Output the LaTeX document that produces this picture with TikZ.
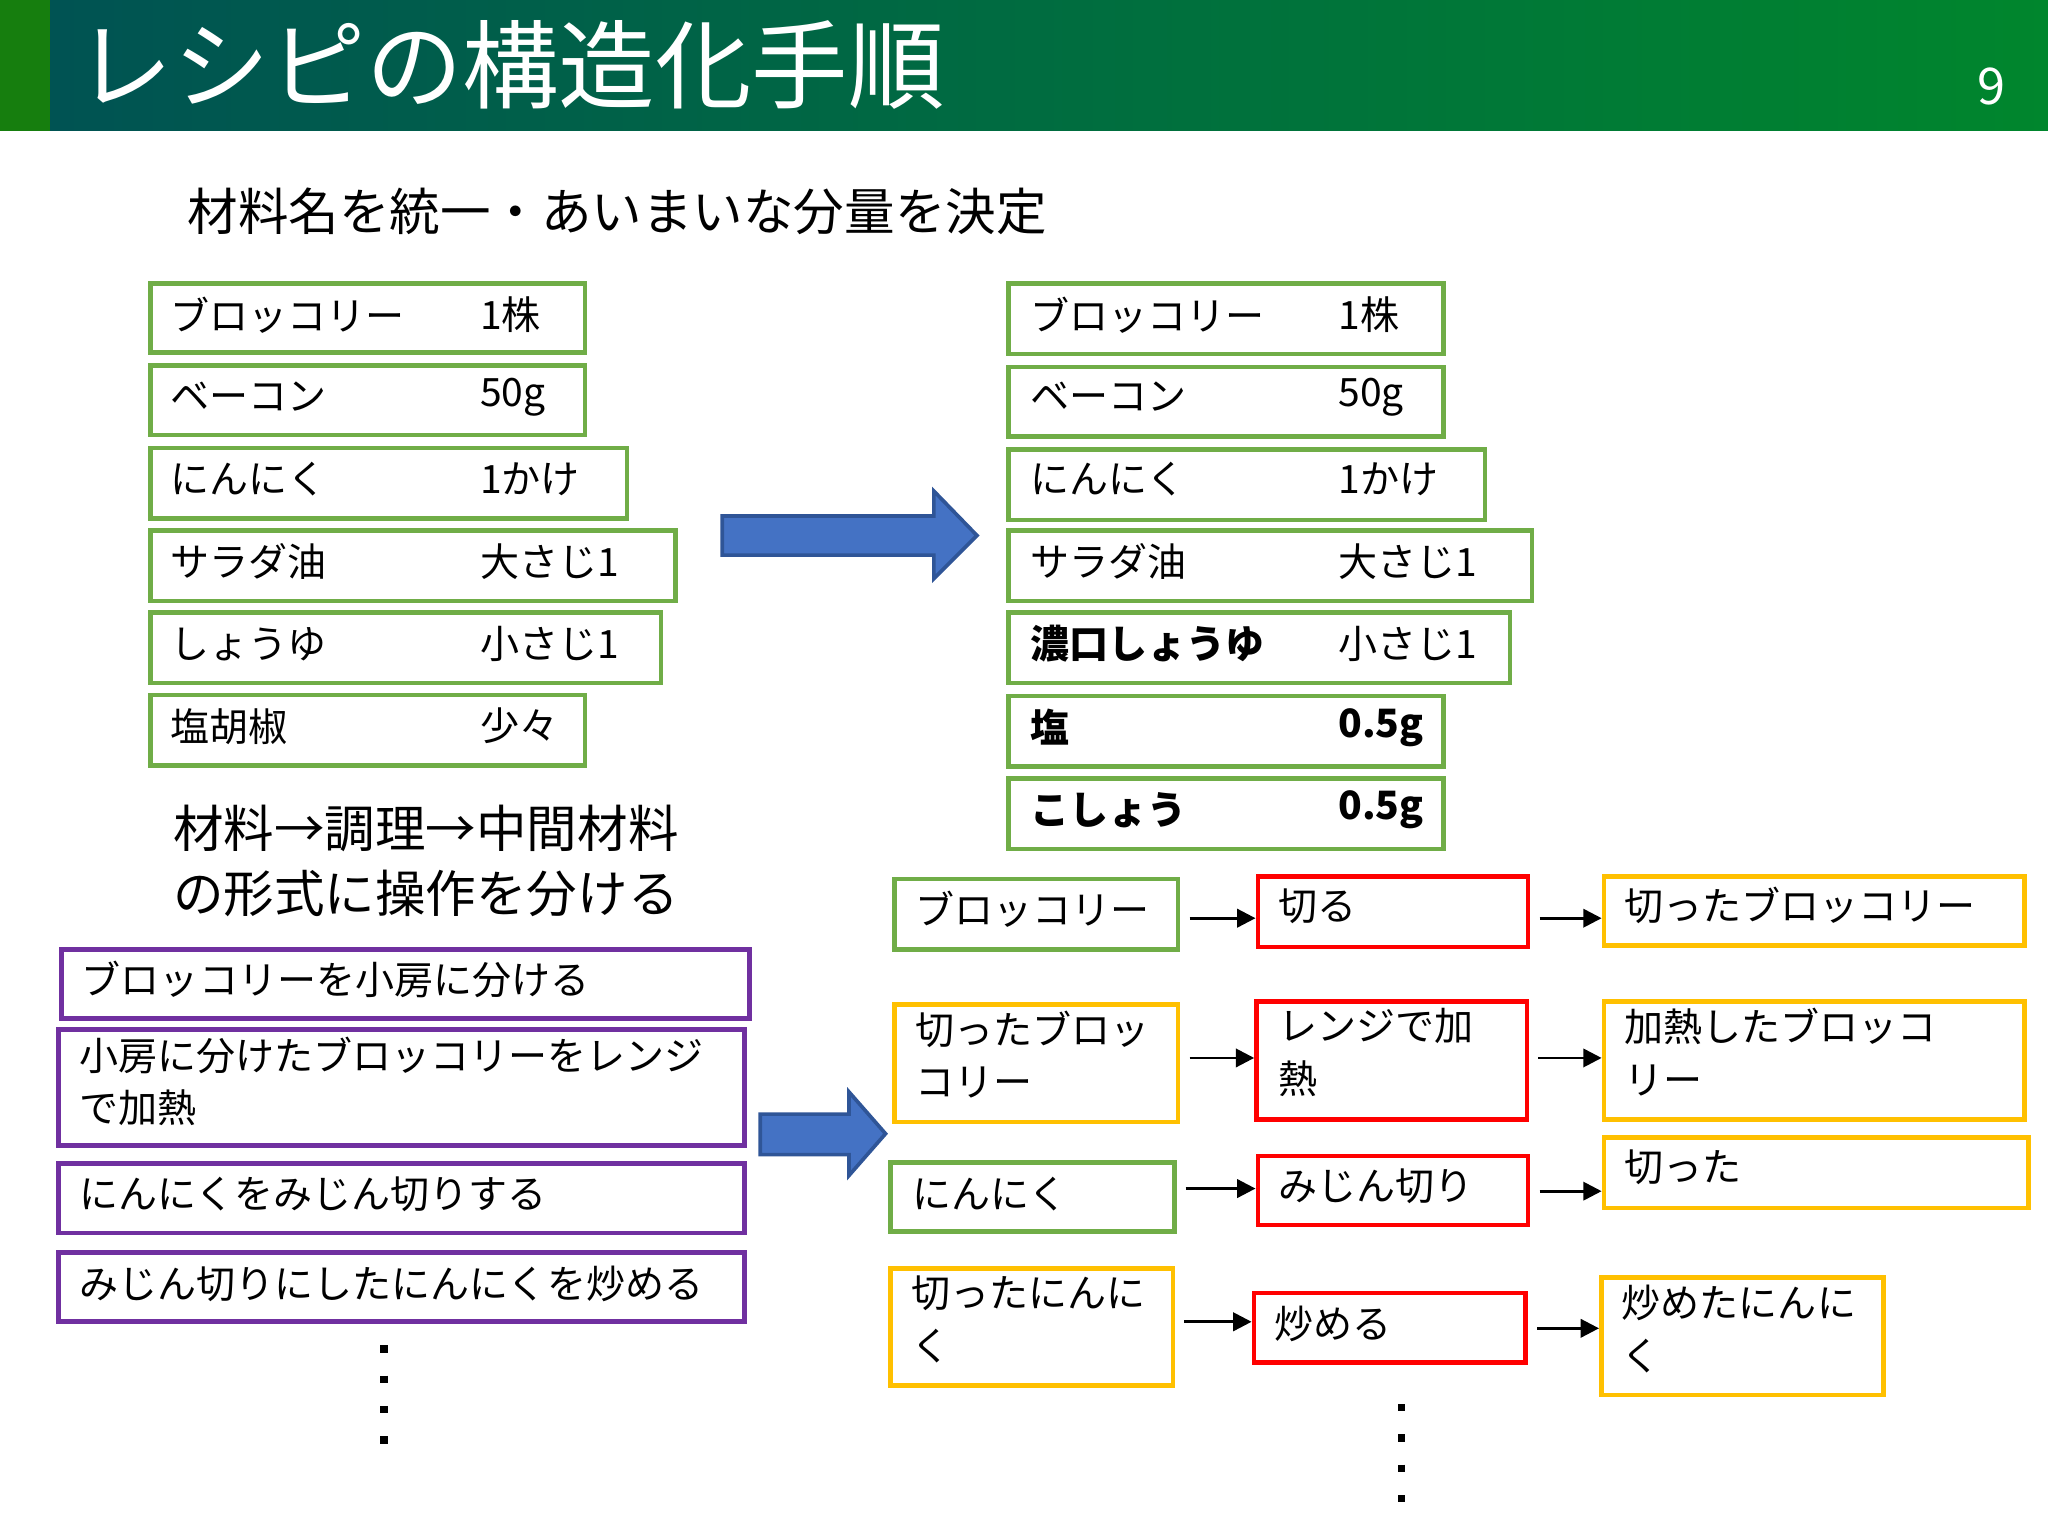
\documentclass[tikz,border=0pt]{standalone}
\usepackage{fontspec}
\setmainfont{Noto Sans CJK JP}
\usetikzlibrary{fit,arrows.meta}
\definecolor{gG}{HTML}{70AD47}\definecolor{gP}{HTML}{7030A0}
\definecolor{gR}{HTML}{FF0000}\definecolor{gY}{HTML}{FFC000}
\definecolor{gB}{HTML}{4472C4}\definecolor{gBd}{HTML}{2F5597}
\begin{document}
\begin{tikzpicture}[x=0.01cm,y=-0.01cm,
 bx/.style={draw,line width=1pt,inner sep=0pt},
 gb/.style={bx,draw=gG},pb/.style={bx,draw=gP},rb/.style={bx,draw=gR},yb/.style={bx,draw=gY},
 t/.style={anchor=west,inner sep=0pt,font=\fontsize{8.5pt}{11pt}\selectfont},
 tm/.style={anchor=north west,inner sep=0pt,align=left,font=\fontsize{8.5pt}{11.5pt}\selectfont},
 fa/.style={-{Triangle[length=4pt,width=4pt]},line width=0.6pt,shorten <=2pt},
 big/.style={draw=gBd,fill=gB,line width=0.8pt,line join=miter},
 dots/.style={line width=1.6pt,dash pattern=on 1.6pt off 5pt}]
\useasboundingbox (0,0) rectangle (1568,1176);
% header
\shade[left color=teal!65!black,right color=green!50!teal!70!black] (38,0) rectangle (1568,100);
\fill[green!45!black!80!gG] (0,0) rectangle (38,100);
\node[anchor=west,inner sep=0pt,text=white,font=\fontsize{21pt}{24pt}\selectfont] (title) at (58,50) {レシピの構造化手順};
\node[anchor=east,text=white,font=\fontsize{11pt}{13pt}\selectfont] (pg) at (1548,66) {9};
\node[anchor=west,inner sep=0pt,font=\fontsize{11pt}{13pt}\selectfont] (h1) at (143,162) {材料名を統一・あいまいな分量を決定};
\node[anchor=north west,align=left,inner sep=0pt,font=\fontsize{11pt}{14pt}\selectfont] (h2) at (132,616) {材料→調理→中間材料\\の形式に操作を分ける};
% left list
\node[gb,fit={(115,217)(448,270)}] (l1) {};
\node[gb,fit={(115,280)(448,333)}] (l2) {};
\node[gb,fit={(115,343)(480,397)}] (l3) {};
\node[gb,fit={(115,406)(517,460)}] (l4) {};
\node[gb,fit={(115,469)(506,523)}] (l5) {};
\node[gb,fit={(115,532)(448,586)}] (l6) {};
\node[t] (l1a) at (130,241) {ブロッコリー};\node[t] (l1b) at (367,241) {1株};
\node[t] (l2a) at (130,304) {ベーコン};\node[t] (l2b) at (367,304) {50g};
\node[t] (l3a) at (130,367) {にんにく};\node[t] (l3b) at (367,367) {1かけ};
\node[t] (l4a) at (130,430) {サラダ油};\node[t] (l4b) at (367,430) {大さじ1};
\node[t] (l5a) at (130,493) {しょうゆ};\node[t] (l5b) at (367,493) {小さじ1};
\node[t] (l6a) at (130,556) {塩胡椒};\node[t] (l6b) at (367,556) {少々};
% right list
\node[gb,fit={(772,217)(1105,271)}] (r1) {};
\node[gb,fit={(772,281)(1105,334)}] (r2) {};
\node[gb,fit={(772,344)(1137,398)}] (r3) {};
\node[gb,fit={(772,406)(1173,460)}] (r4) {};
\node[gb,fit={(772,469)(1156,523)}] (r5) {};
\node[gb,fit={(772,533)(1105,587)}] (r6) {};
\node[gb,fit={(772,596)(1105,650)}] (r7) {};
\node[t] (r1a) at (788,241) {ブロッコリー};\node[t] (r1b) at (1024,241) {1株};
\node[t] (r2a) at (788,304) {ベーコン};\node[t] (r2b) at (1024,304) {50g};
\node[t] (r3a) at (788,367) {にんにく};\node[t] (r3b) at (1024,367) {1かけ};
\node[t] (r4a) at (788,430) {サラダ油};\node[t] (r4b) at (1024,430) {大さじ1};
\node[t,font=\fontsize{8.5pt}{11pt}\bfseries] (r5a) at (788,493) {濃口しょうゆ};\node[t] (r5b) at (1024,493) {小さじ1};
\node[t,font=\fontsize{8.5pt}{11pt}\bfseries] (r6a) at (788,557) {塩};\node[t,font=\fontsize{8.5pt}{11pt}\bfseries] (r6b) at (1024,557) {0.5g};
\node[t,font=\fontsize{8.5pt}{11pt}\bfseries] (r7a) at (788,620) {こしょう};\node[t,font=\fontsize{8.5pt}{11pt}\bfseries] (r7b) at (1024,620) {0.5g};
% big arrows
\draw[big] (553,395) -- (715,395) -- (715,376) -- (748,410) -- (715,443) -- (715,425) -- (553,425) -- cycle;
\draw[big] (582,853) -- (650,853) -- (650,836) -- (678,868) -- (650,900) -- (650,884) -- (582,884) -- cycle;
% purple
\node[pb,fit={(47,727)(574,780)}] (p1) {};
\node[pb,fit={(45,788)(570,877)}] (p2) {};
\node[pb,fit={(45,891)(570,944)}] (p3) {};
\node[pb,fit={(45,959)(570,1012)}] (p4) {};
\node[t] (p1t) at (62,750) {ブロッコリーを小房に分ける};
\node[tm] (p2t) at (60,793) {小房に分けたブロッコリーをレンジ\\で加熱};
\node[t] (p3t) at (60,914) {にんにくをみじん切りする};
\node[t] (p4t) at (60,983) {みじん切りにしたにんにくを炒める};
\coordinate (d1a) at (294,1030);\coordinate (d1b) at (294,1110);
\draw[dots] (d1a) -- (d1b);
% flow
\node[gb,fit={(685,673)(902,727)}] (f11) {};
\node[rb,fit={(963,671)(1170,725)}] (f12) {};
\node[yb,fit={(1228,671)(1550,724)}] (f13) {};
\node[yb,fit={(685,769)(902,859)}] (f21) {};
\node[rb,fit={(962,767)(1169,857)}] (f22) {};
\node[yb,fit={(1228,767)(1550,857)}] (f23) {};
\node[gb,fit={(682,890)(899,943)}] (f31) {};
\node[rb,fit={(963,885)(1170,938)}] (f32) {};
\node[yb,fit={(1228,871)(1553,925)}] (f33) {};
\node[yb,fit={(682,971)(898,1061)}] (f41) {};
\node[rb,fit={(960,990)(1168,1043)}] (f42) {};
\node[yb,fit={(1226,978)(1442,1068)}] (f43) {};
\node[t] (f11t) at (700,696) {ブロッコリー};
\node[t] (f12t) at (978,694) {切る};
\node[t] (f13t) at (1243,693) {切ったブロッコリー};
\node[tm] (f21t) at (700,773) {切ったブロッ\\コリー};
\node[tm] (f22t) at (978,771) {レンジで加\\熱};
\node[tm] (f23t) at (1243,771) {加熱したブロッコ\\リー};
\node[t] (f31t) at (698,914) {にんにく};
\node[t] (f32t) at (978,908) {みじん切り};
\node[t] (f33t) at (1243,894) {切った};
\node[tm] (f41t) at (697,976) {切ったにんに\\く};
\node[t] (f42t) at (975,1014) {炒める};
\node[tm] (f43t) at (1241,983) {炒めたにんに\\く};
\draw[fa] (f11.east|-0,703) -- (f12.west|-0,703);
\draw[fa] (f12.east|-0,703) -- (f13.west|-0,703);
\draw[fa] (f21.east|-0,810) -- (f22.west|-0,810);
\draw[fa] (f22.east|-0,810) -- (f23.west|-0,810);
\draw[fa] (f31.east|-0,910) -- (f32.west|-0,910);
\draw[fa] (f32.east|-0,912) -- (f33.west|-0,912);
\draw[fa] (f41.east|-0,1012) -- (f42.west|-0,1012);
\draw[fa] (f42.east|-0,1017) -- (f43.west|-0,1017);
\coordinate (d2a) at (1073,1075);\coordinate (d2b) at (1073,1155);
\draw[dots] (d2a) -- (d2b);
\end{tikzpicture}
\end{document}
